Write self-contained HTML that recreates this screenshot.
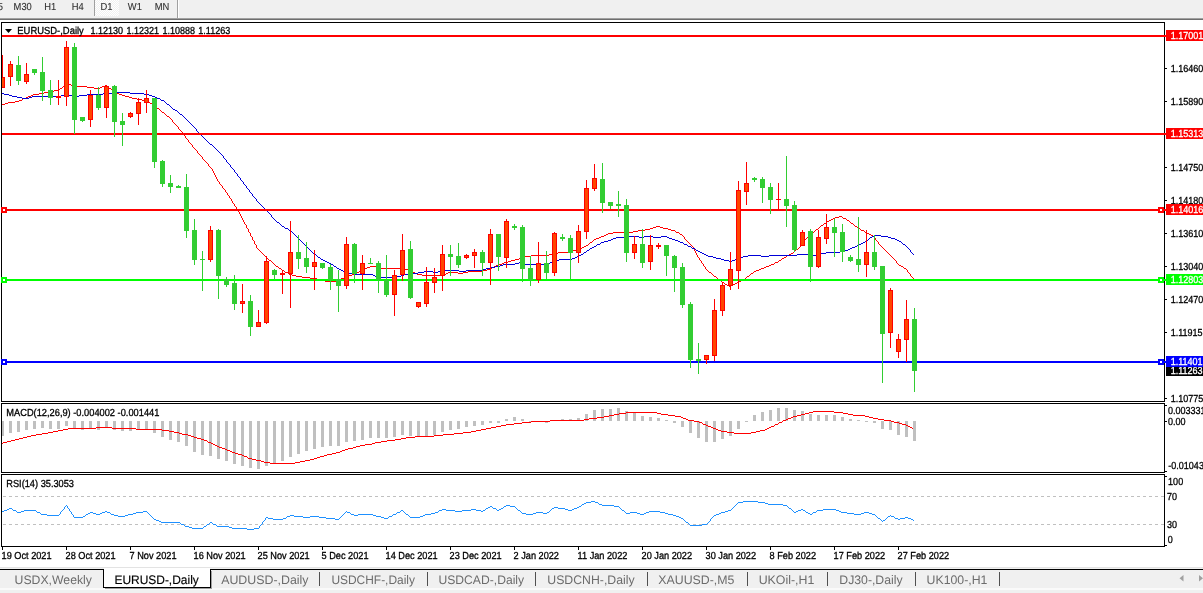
<!DOCTYPE html>
<html lang="en"><head><meta charset="utf-8"><title>EURUSD-,Daily</title>
<style>html,body{margin:0;padding:0;background:#fff;overflow:hidden}svg{display:block}</style></head>
<body>
<svg width="1203" height="593" viewBox="0 0 1203 593" font-family="'Liberation Sans', sans-serif" text-rendering="geometricPrecision">
<rect x="0" y="0" width="1203" height="593" fill="#ffffff"/>
<g id="toolbar" shape-rendering="crispEdges">
<rect x="0" y="0" width="1203" height="18" fill="#f0f0f0"/>
<defs><pattern id="chk" x="0" y="0" width="2" height="2" patternUnits="userSpaceOnUse"><rect width="2" height="2" fill="#f0f0f0"/><rect x="0" y="0" width="1" height="1" fill="#fff"/><rect x="1" y="1" width="1" height="1" fill="#fff"/></pattern></defs>
<rect x="95" y="0" width="24" height="16" fill="url(#chk)"/>
<rect x="0" y="18" width="1203" height="1" fill="#a0a0a0"/>
<rect x="0" y="19" width="1203" height="1" fill="#6e6e6e"/>
<rect x="94" y="0" width="1" height="16" fill="#a0a0a0"/>
<rect x="177" y="0" width="1" height="18" fill="#a0a0a0"/>
<rect x="178" y="0" width="1" height="18" fill="#ffffff"/>
</g>
<g id="tf">
<text transform="translate(-2.2 10) scale(0.92 1)" font-size="10.2" fill="#303030" stroke="#303030" stroke-width="0.1">5</text>
<text transform="translate(13.6 10) scale(0.92 1)" font-size="10.2" fill="#303030" stroke="#303030" stroke-width="0.1">M30</text>
<text transform="translate(44.3 10) scale(0.92 1)" font-size="10.2" fill="#303030" stroke="#303030" stroke-width="0.1">H1</text>
<text transform="translate(71.8 10) scale(0.92 1)" font-size="10.2" fill="#303030" stroke="#303030" stroke-width="0.1">H4</text>
<text transform="translate(100.6 10) scale(0.92 1)" font-size="10.2" fill="#303030" stroke="#303030" stroke-width="0.1">D1</text>
<text transform="translate(127.8 10) scale(0.92 1)" font-size="10.2" fill="#303030" stroke="#303030" stroke-width="0.1">W1</text>
<text transform="translate(154.8 10) scale(0.92 1)" font-size="10.2" fill="#303030" stroke="#303030" stroke-width="0.1">MN</text>
</g>
<defs><clipPath id="cm"><rect x="2" y="23" width="1162" height="378"/></clipPath>
<clipPath id="c2"><rect x="2" y="404" width="1162" height="68"/></clipPath>
<clipPath id="c3"><rect x="2" y="475" width="1162" height="71"/></clipPath></defs>
<g id="main" clip-path="url(#cm)">
<path d="M67 84h4v1h-4zM65 85h2v1h-2zM71 85h3v1h-3zM105 85h2v1h-2zM63 86h2v1h-2zM74 86h13v1h-13zM102 86h3v1h-3zM107 86h1v1h-1zM62 87h1v1h-1zM87 87h7v1h-7zM100 87h2v1h-2zM108 87h1v1h-1zM60 88h2v1h-2zM94 88h6v1h-6zM109 88h2v1h-2zM59 89h1v1h-1zM111 89h1v1h-1zM54 90h5v1h-5zM112 90h1v1h-1zM49 91h5v1h-5zM113 91h2v1h-2zM44 92h5v1h-5zM115 92h2v1h-2zM39 93h5v1h-5zM117 93h2v1h-2zM33 94h6v1h-6zM119 94h3v1h-3zM31 95h2v1h-2zM122 95h3v1h-3zM28 96h3v1h-3zM125 96h4v1h-4zM26 97h2v1h-2zM129 97h3v1h-3zM23 98h3v1h-3zM132 98h5v1h-5zM22 99h1v1h-1zM137 99h5v1h-5zM19 100h3v1h-3zM142 100h4v1h-4zM15 101h4v1h-4zM146 101h2v1h-2zM8 102h7v1h-7zM148 102h2v1h-2zM5 103h3v1h-3zM150 103h2v1h-2zM2 104h3v1h-3zM152 104h1v1h-1zM153 105h1v1h-1zM154 106h2v1h-2zM156 107h1v1h-1zM157 108h2v1h-2zM159 109h1v1h-1zM160 110h1v1h-1zM161 111h1v1h-1zM162 112h2v1h-2zM164 113h1v1h-1zM165 114h1v1h-1zM166 115h1v1h-1zM167 116h2v1h-2zM169 117h1v1h-1zM170 118h1v1h-1zM171 119h1v1h-1zM172 120h1v1h-1zM172 121h1v1h-1zM173 122h1v1h-1zM174 123h1v1h-1zM175 124h1v1h-1zM176 125h1v1h-1zM177 126h1v1h-1zM178 127h1v1h-1zM178 128h1v1h-1zM179 129h1v1h-1zM180 130h1v1h-1zM181 131h1v1h-1zM182 132h1v1h-1zM182 133h1v1h-1zM183 134h1v1h-1zM184 135h1v1h-1zM185 136h1v1h-1zM185 137h1v1h-1zM186 138h1v1h-1zM187 139h1v1h-1zM188 140h1v1h-1zM188 141h1v1h-1zM189 142h1v1h-1zM190 143h1v1h-1zM191 144h1v1h-1zM192 145h1v1h-1zM192 146h1v1h-1zM193 147h1v1h-1zM194 148h1v1h-1zM195 149h1v1h-1zM196 150h1v1h-1zM197 151h1v1h-1zM197 152h1v1h-1zM198 153h1v1h-1zM199 154h1v1h-1zM200 155h1v1h-1zM201 156h1v1h-1zM202 157h1v1h-1zM202 158h1v1h-1zM203 159h1v1h-1zM204 160h1v1h-1zM205 161h1v1h-1zM206 162h1v1h-1zM207 163h1v1h-1zM208 164h1v1h-1zM208 165h1v1h-1zM209 166h1v1h-1zM210 167h1v1h-1zM211 168h1v1h-1zM212 169h1v1h-1zM212 170h1v1h-1zM213 171h1v1h-1zM213 172h1v1h-1zM214 173h1v1h-1zM214 174h1v1h-1zM215 175h1v1h-1zM215 176h1v1h-1zM216 177h1v1h-1zM216 178h1v1h-1zM217 179h1v1h-1zM217 180h1v1h-1zM218 181h1v1h-1zM219 182h1v1h-1zM219 183h1v1h-1zM220 184h1v1h-1zM221 185h1v1h-1zM222 186h1v1h-1zM222 187h1v1h-1zM223 188h1v1h-1zM224 189h1v1h-1zM225 190h1v1h-1zM225 191h1v1h-1zM226 192h1v1h-1zM227 193h1v1h-1zM227 194h1v1h-1zM228 195h1v1h-1zM229 196h1v1h-1zM229 197h1v1h-1zM230 198h1v1h-1zM231 199h1v1h-1zM231 200h1v1h-1zM232 201h1v1h-1zM232 202h1v1h-1zM233 203h1v1h-1zM234 204h1v1h-1zM234 205h1v1h-1zM235 206h1v1h-1zM236 207h1v1h-1zM236 208h1v1h-1zM237 209h1v1h-1zM238 210h1v1h-1zM238 211h1v1h-1zM239 212h1v1h-1zM239 213h1v1h-1zM240 214h1v1h-1zM240 215h1v1h-1zM241 216h1v1h-1zM839 216h3v1h-3zM241 217h1v1h-1zM835 217h4v1h-4zM842 217h1v1h-1zM242 218h1v1h-1zM833 218h2v1h-2zM843 218h3v1h-3zM242 219h1v1h-1zM831 219h2v1h-2zM846 219h1v1h-1zM243 220h1v1h-1zM829 220h2v1h-2zM847 220h2v1h-2zM243 221h1v1h-1zM827 221h2v1h-2zM849 221h1v1h-1zM244 222h1v1h-1zM826 222h1v1h-1zM850 222h1v1h-1zM244 223h1v1h-1zM824 223h2v1h-2zM851 223h2v1h-2zM245 224h1v1h-1zM823 224h1v1h-1zM853 224h1v1h-1zM246 225h1v1h-1zM821 225h2v1h-2zM854 225h1v1h-1zM246 226h1v1h-1zM656 226h4v1h-4zM820 226h1v1h-1zM855 226h2v1h-2zM246 227h1v1h-1zM653 227h3v1h-3zM660 227h3v1h-3zM819 227h1v1h-1zM857 227h1v1h-1zM247 228h1v1h-1zM650 228h3v1h-3zM663 228h5v1h-5zM818 228h1v1h-1zM858 228h2v1h-2zM248 229h1v1h-1zM645 229h5v1h-5zM668 229h3v1h-3zM816 229h2v1h-2zM860 229h1v1h-1zM248 230h1v1h-1zM638 230h7v1h-7zM671 230h4v1h-4zM815 230h1v1h-1zM861 230h3v1h-3zM248 231h1v1h-1zM633 231h5v1h-5zM675 231h1v1h-1zM814 231h1v1h-1zM864 231h1v1h-1zM249 232h1v1h-1zM613 232h20v1h-20zM676 232h3v1h-3zM813 232h1v1h-1zM865 232h2v1h-2zM250 233h1v1h-1zM608 233h5v1h-5zM679 233h1v1h-1zM812 233h1v1h-1zM867 233h2v1h-2zM250 234h1v1h-1zM606 234h2v1h-2zM680 234h2v1h-2zM811 234h1v1h-1zM869 234h2v1h-2zM250 235h1v1h-1zM604 235h2v1h-2zM682 235h1v1h-1zM809 235h2v1h-2zM871 235h2v1h-2zM251 236h1v1h-1zM601 236h3v1h-3zM683 236h1v1h-1zM808 236h1v1h-1zM873 236h1v1h-1zM252 237h1v1h-1zM599 237h2v1h-2zM684 237h1v1h-1zM807 237h1v1h-1zM874 237h1v1h-1zM252 238h1v1h-1zM596 238h3v1h-3zM684 238h1v1h-1zM806 238h1v1h-1zM875 238h1v1h-1zM252 239h1v1h-1zM594 239h2v1h-2zM685 239h1v1h-1zM805 239h1v1h-1zM875 239h1v1h-1zM253 240h1v1h-1zM593 240h1v1h-1zM686 240h1v1h-1zM804 240h1v1h-1zM876 240h1v1h-1zM254 241h1v1h-1zM592 241h1v1h-1zM687 241h1v1h-1zM804 241h1v1h-1zM877 241h1v1h-1zM254 242h1v1h-1zM590 242h2v1h-2zM688 242h1v1h-1zM803 242h1v1h-1zM878 242h1v1h-1zM254 243h1v1h-1zM589 243h1v1h-1zM689 243h1v1h-1zM802 243h1v1h-1zM878 243h1v1h-1zM255 244h1v1h-1zM588 244h1v1h-1zM690 244h1v1h-1zM802 244h1v1h-1zM879 244h1v1h-1zM256 245h1v1h-1zM586 245h2v1h-2zM691 245h1v1h-1zM801 245h1v1h-1zM880 245h1v1h-1zM256 246h1v1h-1zM584 246h2v1h-2zM692 246h1v1h-1zM800 246h1v1h-1zM881 246h1v1h-1zM256 247h1v1h-1zM582 247h2v1h-2zM693 247h1v1h-1zM799 247h1v1h-1zM882 247h1v1h-1zM257 248h1v1h-1zM579 248h3v1h-3zM693 248h1v1h-1zM798 248h1v1h-1zM883 248h1v1h-1zM258 249h1v1h-1zM576 249h3v1h-3zM694 249h1v1h-1zM796 249h2v1h-2zM884 249h1v1h-1zM259 250h1v1h-1zM572 250h4v1h-4zM694 250h1v1h-1zM795 250h1v1h-1zM885 250h1v1h-1zM260 251h1v1h-1zM568 251h4v1h-4zM695 251h1v1h-1zM794 251h1v1h-1zM886 251h1v1h-1zM261 252h1v1h-1zM558 252h10v1h-10zM695 252h1v1h-1zM793 252h1v1h-1zM887 252h1v1h-1zM262 253h1v1h-1zM555 253h3v1h-3zM696 253h1v1h-1zM791 253h2v1h-2zM888 253h1v1h-1zM263 254h1v1h-1zM549 254h6v1h-6zM696 254h1v1h-1zM789 254h2v1h-2zM889 254h1v1h-1zM264 255h1v1h-1zM531 255h18v1h-18zM697 255h1v1h-1zM787 255h2v1h-2zM890 255h1v1h-1zM265 256h1v1h-1zM525 256h6v1h-6zM697 256h1v1h-1zM786 256h1v1h-1zM891 256h1v1h-1zM266 257h1v1h-1zM522 257h3v1h-3zM698 257h1v1h-1zM784 257h2v1h-2zM892 257h1v1h-1zM267 258h1v1h-1zM519 258h3v1h-3zM699 258h1v1h-1zM782 258h2v1h-2zM893 258h1v1h-1zM268 259h1v1h-1zM515 259h4v1h-4zM699 259h1v1h-1zM781 259h1v1h-1zM894 259h1v1h-1zM269 260h2v1h-2zM511 260h4v1h-4zM700 260h1v1h-1zM779 260h2v1h-2zM895 260h1v1h-1zM271 261h1v1h-1zM508 261h3v1h-3zM701 261h1v1h-1zM778 261h1v1h-1zM896 261h1v1h-1zM272 262h1v1h-1zM504 262h4v1h-4zM701 262h1v1h-1zM775 262h3v1h-3zM896 262h1v1h-1zM273 263h1v1h-1zM502 263h2v1h-2zM702 263h1v1h-1zM774 263h1v1h-1zM897 263h1v1h-1zM274 264h1v1h-1zM499 264h3v1h-3zM703 264h1v1h-1zM771 264h3v1h-3zM898 264h1v1h-1zM275 265h1v1h-1zM496 265h3v1h-3zM703 265h1v1h-1zM769 265h2v1h-2zM899 265h2v1h-2zM276 266h2v1h-2zM370 266h8v1h-8zM494 266h2v1h-2zM704 266h1v1h-1zM766 266h3v1h-3zM901 266h2v1h-2zM278 267h1v1h-1zM367 267h3v1h-3zM378 267h3v1h-3zM492 267h2v1h-2zM705 267h1v1h-1zM764 267h2v1h-2zM903 267h1v1h-1zM279 268h2v1h-2zM365 268h2v1h-2zM381 268h23v1h-23zM490 268h2v1h-2zM705 268h1v1h-1zM761 268h3v1h-3zM904 268h2v1h-2zM281 269h1v1h-1zM363 269h2v1h-2zM404 269h4v1h-4zM487 269h3v1h-3zM706 269h1v1h-1zM759 269h2v1h-2zM906 269h1v1h-1zM282 270h2v1h-2zM361 270h2v1h-2zM408 270h2v1h-2zM482 270h5v1h-5zM707 270h1v1h-1zM756 270h3v1h-3zM907 270h1v1h-1zM284 271h1v1h-1zM359 271h2v1h-2zM410 271h2v1h-2zM468 271h14v1h-14zM708 271h1v1h-1zM754 271h2v1h-2zM907 271h1v1h-1zM285 272h3v1h-3zM357 272h2v1h-2zM412 272h3v1h-3zM448 272h10v1h-10zM463 272h5v1h-5zM709 272h2v1h-2zM753 272h1v1h-1zM908 272h1v1h-1zM288 273h1v1h-1zM355 273h2v1h-2zM415 273h2v1h-2zM446 273h2v1h-2zM458 273h5v1h-5zM711 273h1v1h-1zM751 273h2v1h-2zM909 273h1v1h-1zM289 274h3v1h-3zM352 274h3v1h-3zM417 274h5v1h-5zM440 274h6v1h-6zM712 274h1v1h-1zM750 274h1v1h-1zM910 274h1v1h-1zM292 275h4v1h-4zM349 275h3v1h-3zM422 275h18v1h-18zM713 275h1v1h-1zM749 275h1v1h-1zM910 275h1v1h-1zM296 276h6v1h-6zM346 276h3v1h-3zM714 276h2v1h-2zM747 276h2v1h-2zM911 276h1v1h-1zM302 277h8v1h-8zM344 277h2v1h-2zM716 277h1v1h-1zM746 277h1v1h-1zM912 277h1v1h-1zM310 278h7v1h-7zM341 278h3v1h-3zM717 278h1v1h-1zM745 278h1v1h-1zM913 278h1v1h-1zM317 279h4v1h-4zM340 279h1v1h-1zM718 279h1v1h-1zM743 279h2v1h-2zM913 279h1v1h-1zM321 280h4v1h-4zM337 280h3v1h-3zM719 280h2v1h-2zM741 280h2v1h-2zM325 281h12v1h-12zM721 281h1v1h-1zM739 281h2v1h-2zM722 282h2v1h-2zM737 282h2v1h-2zM724 283h1v1h-1zM735 283h2v1h-2zM725 284h2v1h-2zM733 284h2v1h-2zM727 285h2v1h-2zM731 285h2v1h-2zM729 286h2v1h-2z" fill="#ff0000" shape-rendering="crispEdges"/>
<path d="M117 92h13v1h-13zM2 93h2v1h-2zM103 93h14v1h-14zM130 93h14v1h-14zM4 94h5v1h-5zM64 94h5v1h-5zM87 94h16v1h-16zM144 94h5v1h-5zM9 95h3v1h-3zM61 95h3v1h-3zM69 95h3v1h-3zM79 95h8v1h-8zM149 95h3v1h-3zM12 96h5v1h-5zM32 96h29v1h-29zM72 96h7v1h-7zM152 96h3v1h-3zM17 97h5v1h-5zM29 97h3v1h-3zM155 97h2v1h-2zM22 98h7v1h-7zM157 98h3v1h-3zM160 99h1v1h-1zM161 100h3v1h-3zM164 101h1v1h-1zM165 102h1v1h-1zM166 103h1v1h-1zM167 104h2v1h-2zM169 105h1v1h-1zM170 106h1v1h-1zM171 107h1v1h-1zM172 108h1v1h-1zM173 109h2v1h-2zM175 110h2v1h-2zM177 111h1v1h-1zM178 112h1v1h-1zM179 113h1v1h-1zM180 114h2v1h-2zM182 115h1v1h-1zM183 116h1v1h-1zM184 117h1v1h-1zM185 118h1v1h-1zM186 119h1v1h-1zM187 120h1v1h-1zM188 121h1v1h-1zM189 122h1v1h-1zM190 123h1v1h-1zM191 124h1v1h-1zM192 125h1v1h-1zM193 126h1v1h-1zM194 127h1v1h-1zM195 128h1v1h-1zM196 129h1v1h-1zM196 130h1v1h-1zM197 131h1v1h-1zM198 132h1v1h-1zM199 133h1v1h-1zM200 134h1v1h-1zM201 135h1v1h-1zM202 136h1v1h-1zM203 137h1v1h-1zM204 138h1v1h-1zM205 139h1v1h-1zM206 140h1v1h-1zM207 141h1v1h-1zM208 142h1v1h-1zM209 143h1v1h-1zM210 144h2v1h-2zM212 145h1v1h-1zM213 146h1v1h-1zM214 147h1v1h-1zM215 148h1v1h-1zM216 149h1v1h-1zM217 150h1v1h-1zM218 151h1v1h-1zM219 152h1v1h-1zM220 153h1v1h-1zM221 154h1v1h-1zM222 155h1v1h-1zM223 156h1v1h-1zM223 157h1v1h-1zM224 158h1v1h-1zM225 159h1v1h-1zM226 160h1v1h-1zM226 161h1v1h-1zM227 162h1v1h-1zM228 163h1v1h-1zM229 164h1v1h-1zM230 165h1v1h-1zM230 166h1v1h-1zM231 167h1v1h-1zM232 168h1v1h-1zM233 169h1v1h-1zM234 170h1v1h-1zM234 171h1v1h-1zM235 172h1v1h-1zM236 173h1v1h-1zM237 174h1v1h-1zM237 175h1v1h-1zM238 176h1v1h-1zM239 177h1v1h-1zM240 178h1v1h-1zM240 179h1v1h-1zM241 180h1v1h-1zM242 181h1v1h-1zM243 182h1v1h-1zM243 183h1v1h-1zM244 184h1v1h-1zM245 185h1v1h-1zM246 186h1v1h-1zM246 187h1v1h-1zM247 188h1v1h-1zM248 189h1v1h-1zM249 190h1v1h-1zM249 191h1v1h-1zM250 192h1v1h-1zM251 193h1v1h-1zM252 194h1v1h-1zM252 195h1v1h-1zM253 196h1v1h-1zM254 197h1v1h-1zM255 198h1v1h-1zM256 199h1v1h-1zM256 200h1v1h-1zM257 201h1v1h-1zM258 202h1v1h-1zM259 203h1v1h-1zM260 204h1v1h-1zM261 205h1v1h-1zM262 206h1v1h-1zM263 207h1v1h-1zM264 208h1v1h-1zM265 209h1v1h-1zM266 210h1v1h-1zM267 211h1v1h-1zM268 212h1v1h-1zM269 213h1v1h-1zM270 214h1v1h-1zM271 215h1v1h-1zM271 216h1v1h-1zM272 217h1v1h-1zM273 218h1v1h-1zM274 219h1v1h-1zM275 220h1v1h-1zM276 221h1v1h-1zM277 222h2v1h-2zM279 223h1v1h-1zM280 224h1v1h-1zM281 225h1v1h-1zM282 226h2v1h-2zM284 227h1v1h-1zM285 228h3v1h-3zM288 229h1v1h-1zM289 230h2v1h-2zM291 231h1v1h-1zM292 232h1v1h-1zM293 233h1v1h-1zM294 234h1v1h-1zM295 235h1v1h-1zM875 235h6v1h-6zM296 236h1v1h-1zM627 236h12v1h-12zM644 236h9v1h-9zM661 236h6v1h-6zM872 236h3v1h-3zM881 236h7v1h-7zM297 237h1v1h-1zM616 237h11v1h-11zM639 237h5v1h-5zM653 237h8v1h-8zM667 237h2v1h-2zM870 237h2v1h-2zM888 237h3v1h-3zM298 238h1v1h-1zM613 238h3v1h-3zM669 238h3v1h-3zM869 238h1v1h-1zM891 238h4v1h-4zM299 239h1v1h-1zM611 239h2v1h-2zM672 239h3v1h-3zM868 239h1v1h-1zM895 239h2v1h-2zM300 240h1v1h-1zM608 240h3v1h-3zM675 240h3v1h-3zM866 240h2v1h-2zM897 240h2v1h-2zM301 241h1v1h-1zM604 241h4v1h-4zM678 241h2v1h-2zM865 241h1v1h-1zM899 241h2v1h-2zM302 242h1v1h-1zM601 242h3v1h-3zM680 242h3v1h-3zM863 242h2v1h-2zM901 242h1v1h-1zM303 243h1v1h-1zM600 243h1v1h-1zM683 243h1v1h-1zM861 243h2v1h-2zM902 243h1v1h-1zM304 244h1v1h-1zM597 244h3v1h-3zM684 244h3v1h-3zM859 244h2v1h-2zM903 244h2v1h-2zM305 245h1v1h-1zM596 245h1v1h-1zM687 245h1v1h-1zM857 245h2v1h-2zM905 245h1v1h-1zM306 246h1v1h-1zM594 246h2v1h-2zM688 246h3v1h-3zM855 246h2v1h-2zM906 246h1v1h-1zM307 247h1v1h-1zM592 247h2v1h-2zM691 247h1v1h-1zM852 247h3v1h-3zM907 247h1v1h-1zM308 248h1v1h-1zM590 248h2v1h-2zM692 248h3v1h-3zM850 248h2v1h-2zM908 248h1v1h-1zM309 249h1v1h-1zM589 249h1v1h-1zM695 249h1v1h-1zM848 249h2v1h-2zM909 249h1v1h-1zM310 250h1v1h-1zM587 250h2v1h-2zM696 250h2v1h-2zM844 250h4v1h-4zM910 250h1v1h-1zM311 251h1v1h-1zM586 251h1v1h-1zM698 251h2v1h-2zM840 251h4v1h-4zM910 251h1v1h-1zM312 252h1v1h-1zM584 252h2v1h-2zM700 252h2v1h-2zM826 252h14v1h-14zM911 252h1v1h-1zM313 253h1v1h-1zM583 253h1v1h-1zM702 253h2v1h-2zM820 253h6v1h-6zM912 253h1v1h-1zM314 254h2v1h-2zM581 254h2v1h-2zM704 254h2v1h-2zM797 254h13v1h-13zM816 254h4v1h-4zM913 254h1v1h-1zM316 255h1v1h-1zM579 255h2v1h-2zM706 255h2v1h-2zM748 255h13v1h-13zM769 255h28v1h-28zM810 255h6v1h-6zM317 256h1v1h-1zM577 256h2v1h-2zM708 256h5v1h-5zM743 256h5v1h-5zM761 256h8v1h-8zM318 257h2v1h-2zM575 257h2v1h-2zM713 257h3v1h-3zM741 257h2v1h-2zM320 258h1v1h-1zM572 258h3v1h-3zM716 258h5v1h-5zM738 258h3v1h-3zM321 259h2v1h-2zM559 259h13v1h-13zM721 259h3v1h-3zM735 259h3v1h-3zM323 260h2v1h-2zM556 260h3v1h-3zM724 260h5v1h-5zM732 260h3v1h-3zM325 261h2v1h-2zM554 261h2v1h-2zM729 261h3v1h-3zM327 262h2v1h-2zM519 262h3v1h-3zM550 262h4v1h-4zM329 263h2v1h-2zM515 263h4v1h-4zM522 263h3v1h-3zM545 263h5v1h-5zM331 264h2v1h-2zM503 264h12v1h-12zM525 264h20v1h-20zM333 265h1v1h-1zM500 265h3v1h-3zM334 266h2v1h-2zM495 266h5v1h-5zM336 267h1v1h-1zM491 267h4v1h-4zM337 268h2v1h-2zM486 268h5v1h-5zM339 269h2v1h-2zM483 269h3v1h-3zM341 270h2v1h-2zM440 270h19v1h-19zM466 270h17v1h-17zM343 271h2v1h-2zM424 271h9v1h-9zM438 271h2v1h-2zM459 271h7v1h-7zM345 272h3v1h-3zM418 272h6v1h-6zM433 272h5v1h-5zM348 273h6v1h-6zM411 273h7v1h-7zM354 274h19v1h-19zM404 274h7v1h-7zM373 275h2v1h-2zM401 275h3v1h-3zM375 276h5v1h-5zM394 276h7v1h-7zM380 277h14v1h-14z" fill="#0000d8" shape-rendering="crispEdges"/>
<g shape-rendering="crispEdges">
<rect x="2" y="35" width="1162" height="2" fill="#ff0000"/>
<rect x="2" y="133" width="1162" height="2" fill="#ff0000"/>
<rect x="2" y="209" width="1162" height="2" fill="#ff0000"/>
<rect x="2" y="279" width="1162" height="2" fill="#00ff00"/>
<rect x="2" y="361" width="1162" height="2" fill="#0000ff"/>
</g>
<g id="candles" shape-rendering="crispEdges">
<rect x="2" y="55" width="1" height="33" fill="#ff0000"/>
<rect x="0" y="77" width="5" height="11" fill="#ff0000"/>
<rect x="1" y="78" width="3" height="9" fill="#ff4500"/>
<rect x="10" y="61" width="1" height="25" fill="#ff0000"/>
<rect x="8" y="64" width="5" height="13" fill="#ff0000"/>
<rect x="9" y="65" width="3" height="11" fill="#ff4500"/>
<rect x="18" y="56" width="1" height="29" fill="#32cd32"/>
<rect x="16" y="65" width="5" height="16" fill="#32cd32"/>
<rect x="26" y="63" width="1" height="21" fill="#ff0000"/>
<rect x="24" y="74" width="5" height="8" fill="#ff0000"/>
<rect x="25" y="75" width="3" height="6" fill="#ff4500"/>
<rect x="34" y="69" width="1" height="6" fill="#32cd32"/>
<rect x="32" y="69" width="5" height="4" fill="#32cd32"/>
<rect x="42" y="57" width="1" height="44" fill="#32cd32"/>
<rect x="40" y="72" width="5" height="19" fill="#32cd32"/>
<rect x="50" y="80" width="1" height="25" fill="#32cd32"/>
<rect x="48" y="90" width="5" height="8" fill="#32cd32"/>
<rect x="58" y="80" width="1" height="25" fill="#ff0000"/>
<rect x="56" y="96" width="5" height="2" fill="#ff0000"/>
<rect x="66" y="41" width="1" height="65" fill="#ff0000"/>
<rect x="64" y="47" width="5" height="50" fill="#ff0000"/>
<rect x="65" y="48" width="3" height="48" fill="#ff4500"/>
<rect x="74" y="43" width="1" height="91" fill="#32cd32"/>
<rect x="72" y="47" width="5" height="73" fill="#32cd32"/>
<rect x="82" y="117" width="1" height="5" fill="#32cd32"/>
<rect x="80" y="117" width="5" height="4" fill="#32cd32"/>
<rect x="90" y="90" width="1" height="37" fill="#ff0000"/>
<rect x="88" y="95" width="5" height="25" fill="#ff0000"/>
<rect x="89" y="96" width="3" height="23" fill="#ff4500"/>
<rect x="98" y="87" width="1" height="23" fill="#32cd32"/>
<rect x="96" y="95" width="5" height="13" fill="#32cd32"/>
<rect x="106" y="85" width="1" height="33" fill="#ff0000"/>
<rect x="104" y="86" width="5" height="22" fill="#ff0000"/>
<rect x="105" y="87" width="3" height="20" fill="#ff4500"/>
<rect x="114" y="85" width="1" height="52" fill="#32cd32"/>
<rect x="112" y="86" width="5" height="36" fill="#32cd32"/>
<rect x="122" y="113" width="1" height="33" fill="#32cd32"/>
<rect x="120" y="121" width="5" height="4" fill="#32cd32"/>
<rect x="130" y="112" width="1" height="6" fill="#ff0000"/>
<rect x="128" y="113" width="5" height="4" fill="#ff0000"/>
<rect x="129" y="114" width="3" height="2" fill="#ff4500"/>
<rect x="138" y="98" width="1" height="27" fill="#ff0000"/>
<rect x="136" y="102" width="5" height="12" fill="#ff0000"/>
<rect x="137" y="103" width="3" height="10" fill="#ff4500"/>
<rect x="146" y="90" width="1" height="23" fill="#ff0000"/>
<rect x="144" y="98" width="5" height="5" fill="#ff0000"/>
<rect x="145" y="99" width="3" height="3" fill="#ff4500"/>
<rect x="154" y="98" width="1" height="70" fill="#32cd32"/>
<rect x="152" y="98" width="5" height="64" fill="#32cd32"/>
<rect x="162" y="160" width="1" height="27" fill="#32cd32"/>
<rect x="160" y="161" width="5" height="23" fill="#32cd32"/>
<rect x="170" y="175" width="1" height="18" fill="#32cd32"/>
<rect x="168" y="183" width="5" height="4" fill="#32cd32"/>
<rect x="178" y="185" width="1" height="3" fill="#32cd32"/>
<rect x="176" y="186" width="5" height="2" fill="#32cd32"/>
<rect x="186" y="174" width="1" height="64" fill="#32cd32"/>
<rect x="184" y="187" width="5" height="44" fill="#32cd32"/>
<rect x="194" y="219" width="1" height="46" fill="#32cd32"/>
<rect x="192" y="230" width="5" height="30" fill="#32cd32"/>
<rect x="202" y="251" width="1" height="40" fill="#32cd32"/>
<rect x="200" y="259" width="5" height="1" fill="#32cd32"/>
<rect x="210" y="226" width="1" height="36" fill="#ff0000"/>
<rect x="208" y="230" width="5" height="30" fill="#ff0000"/>
<rect x="209" y="231" width="3" height="28" fill="#ff4500"/>
<rect x="218" y="229" width="1" height="70" fill="#32cd32"/>
<rect x="216" y="230" width="5" height="46" fill="#32cd32"/>
<rect x="226" y="277" width="1" height="10" fill="#32cd32"/>
<rect x="224" y="279" width="5" height="6" fill="#32cd32"/>
<rect x="234" y="275" width="1" height="35" fill="#32cd32"/>
<rect x="232" y="283" width="5" height="21" fill="#32cd32"/>
<rect x="242" y="284" width="1" height="29" fill="#ff0000"/>
<rect x="240" y="301" width="5" height="3" fill="#ff0000"/>
<rect x="241" y="302" width="3" height="1" fill="#ff4500"/>
<rect x="250" y="295" width="1" height="41" fill="#32cd32"/>
<rect x="248" y="301" width="5" height="26" fill="#32cd32"/>
<rect x="258" y="310" width="1" height="17" fill="#ff0000"/>
<rect x="256" y="322" width="5" height="5" fill="#ff0000"/>
<rect x="257" y="323" width="3" height="3" fill="#ff4500"/>
<rect x="266" y="256" width="1" height="68" fill="#ff0000"/>
<rect x="264" y="261" width="5" height="62" fill="#ff0000"/>
<rect x="265" y="262" width="3" height="60" fill="#ff4500"/>
<rect x="274" y="269" width="1" height="11" fill="#32cd32"/>
<rect x="272" y="270" width="5" height="5" fill="#32cd32"/>
<rect x="282" y="270" width="1" height="24" fill="#ff0000"/>
<rect x="280" y="273" width="5" height="2" fill="#ff0000"/>
<rect x="290" y="221" width="1" height="87" fill="#ff0000"/>
<rect x="288" y="252" width="5" height="22" fill="#ff0000"/>
<rect x="289" y="253" width="3" height="20" fill="#ff4500"/>
<rect x="298" y="235" width="1" height="34" fill="#32cd32"/>
<rect x="296" y="252" width="5" height="7" fill="#32cd32"/>
<rect x="306" y="242" width="1" height="31" fill="#32cd32"/>
<rect x="304" y="258" width="5" height="9" fill="#32cd32"/>
<rect x="314" y="250" width="1" height="40" fill="#ff0000"/>
<rect x="312" y="262" width="5" height="5" fill="#ff0000"/>
<rect x="313" y="263" width="3" height="3" fill="#ff4500"/>
<rect x="322" y="263" width="1" height="6" fill="#32cd32"/>
<rect x="320" y="263" width="5" height="5" fill="#32cd32"/>
<rect x="330" y="264" width="1" height="26" fill="#32cd32"/>
<rect x="328" y="267" width="5" height="13" fill="#32cd32"/>
<rect x="338" y="270" width="1" height="42" fill="#32cd32"/>
<rect x="336" y="279" width="5" height="7" fill="#32cd32"/>
<rect x="346" y="237" width="1" height="52" fill="#ff0000"/>
<rect x="344" y="244" width="5" height="42" fill="#ff0000"/>
<rect x="345" y="245" width="3" height="40" fill="#ff4500"/>
<rect x="354" y="243" width="1" height="40" fill="#32cd32"/>
<rect x="352" y="244" width="5" height="30" fill="#32cd32"/>
<rect x="362" y="255" width="1" height="35" fill="#ff0000"/>
<rect x="360" y="263" width="5" height="11" fill="#ff0000"/>
<rect x="361" y="264" width="3" height="9" fill="#ff4500"/>
<rect x="370" y="258" width="1" height="6" fill="#32cd32"/>
<rect x="368" y="263" width="5" height="1" fill="#32cd32"/>
<rect x="378" y="261" width="1" height="32" fill="#32cd32"/>
<rect x="376" y="263" width="5" height="17" fill="#32cd32"/>
<rect x="386" y="255" width="1" height="42" fill="#32cd32"/>
<rect x="384" y="280" width="5" height="15" fill="#32cd32"/>
<rect x="394" y="270" width="1" height="46" fill="#ff0000"/>
<rect x="392" y="275" width="5" height="20" fill="#ff0000"/>
<rect x="393" y="276" width="3" height="18" fill="#ff4500"/>
<rect x="402" y="234" width="1" height="47" fill="#ff0000"/>
<rect x="400" y="250" width="5" height="25" fill="#ff0000"/>
<rect x="401" y="251" width="3" height="23" fill="#ff4500"/>
<rect x="410" y="241" width="1" height="58" fill="#32cd32"/>
<rect x="408" y="249" width="5" height="49" fill="#32cd32"/>
<rect x="418" y="302" width="1" height="6" fill="#ff0000"/>
<rect x="416" y="302" width="5" height="5" fill="#ff0000"/>
<rect x="417" y="303" width="3" height="3" fill="#ff4500"/>
<rect x="426" y="267" width="1" height="40" fill="#ff0000"/>
<rect x="424" y="282" width="5" height="22" fill="#ff0000"/>
<rect x="425" y="283" width="3" height="20" fill="#ff4500"/>
<rect x="434" y="268" width="1" height="25" fill="#ff0000"/>
<rect x="432" y="277" width="5" height="6" fill="#ff0000"/>
<rect x="433" y="278" width="3" height="4" fill="#ff4500"/>
<rect x="442" y="245" width="1" height="46" fill="#ff0000"/>
<rect x="440" y="254" width="5" height="22" fill="#ff0000"/>
<rect x="441" y="255" width="3" height="20" fill="#ff4500"/>
<rect x="450" y="245" width="1" height="31" fill="#32cd32"/>
<rect x="448" y="254" width="5" height="3" fill="#32cd32"/>
<rect x="458" y="243" width="1" height="25" fill="#32cd32"/>
<rect x="456" y="256" width="5" height="9" fill="#32cd32"/>
<rect x="466" y="254" width="1" height="5" fill="#ff0000"/>
<rect x="464" y="255" width="5" height="3" fill="#ff0000"/>
<rect x="465" y="256" width="3" height="1" fill="#ff4500"/>
<rect x="474" y="249" width="1" height="19" fill="#ff0000"/>
<rect x="472" y="252" width="5" height="4" fill="#ff0000"/>
<rect x="473" y="253" width="3" height="2" fill="#ff4500"/>
<rect x="482" y="250" width="1" height="26" fill="#32cd32"/>
<rect x="480" y="252" width="5" height="11" fill="#32cd32"/>
<rect x="490" y="229" width="1" height="56" fill="#ff0000"/>
<rect x="488" y="234" width="5" height="29" fill="#ff0000"/>
<rect x="489" y="235" width="3" height="27" fill="#ff4500"/>
<rect x="498" y="234" width="1" height="37" fill="#32cd32"/>
<rect x="496" y="234" width="5" height="23" fill="#32cd32"/>
<rect x="506" y="219" width="1" height="49" fill="#ff0000"/>
<rect x="504" y="221" width="5" height="37" fill="#ff0000"/>
<rect x="505" y="222" width="3" height="35" fill="#ff4500"/>
<rect x="514" y="224" width="1" height="6" fill="#32cd32"/>
<rect x="512" y="226" width="5" height="2" fill="#32cd32"/>
<rect x="522" y="225" width="1" height="57" fill="#32cd32"/>
<rect x="520" y="227" width="5" height="42" fill="#32cd32"/>
<rect x="530" y="256" width="1" height="30" fill="#32cd32"/>
<rect x="528" y="268" width="5" height="12" fill="#32cd32"/>
<rect x="538" y="242" width="1" height="41" fill="#ff0000"/>
<rect x="536" y="263" width="5" height="17" fill="#ff0000"/>
<rect x="537" y="264" width="3" height="15" fill="#ff4500"/>
<rect x="546" y="251" width="1" height="28" fill="#32cd32"/>
<rect x="544" y="263" width="5" height="10" fill="#32cd32"/>
<rect x="554" y="232" width="1" height="44" fill="#ff0000"/>
<rect x="552" y="233" width="5" height="40" fill="#ff0000"/>
<rect x="553" y="234" width="3" height="38" fill="#ff4500"/>
<rect x="562" y="234" width="1" height="7" fill="#32cd32"/>
<rect x="560" y="237" width="5" height="2" fill="#32cd32"/>
<rect x="570" y="235" width="1" height="44" fill="#32cd32"/>
<rect x="568" y="238" width="5" height="15" fill="#32cd32"/>
<rect x="578" y="225" width="1" height="38" fill="#ff0000"/>
<rect x="576" y="231" width="5" height="22" fill="#ff0000"/>
<rect x="577" y="232" width="3" height="20" fill="#ff4500"/>
<rect x="586" y="180" width="1" height="59" fill="#ff0000"/>
<rect x="584" y="188" width="5" height="44" fill="#ff0000"/>
<rect x="585" y="189" width="3" height="42" fill="#ff4500"/>
<rect x="594" y="164" width="1" height="27" fill="#ff0000"/>
<rect x="592" y="178" width="5" height="11" fill="#ff0000"/>
<rect x="593" y="179" width="3" height="9" fill="#ff4500"/>
<rect x="602" y="163" width="1" height="50" fill="#32cd32"/>
<rect x="600" y="179" width="5" height="24" fill="#32cd32"/>
<rect x="610" y="202" width="1" height="7" fill="#32cd32"/>
<rect x="608" y="202" width="5" height="4" fill="#32cd32"/>
<rect x="618" y="191" width="1" height="26" fill="#32cd32"/>
<rect x="616" y="204" width="5" height="2" fill="#32cd32"/>
<rect x="626" y="199" width="1" height="63" fill="#32cd32"/>
<rect x="624" y="205" width="5" height="48" fill="#32cd32"/>
<rect x="634" y="236" width="1" height="23" fill="#ff0000"/>
<rect x="632" y="244" width="5" height="9" fill="#ff0000"/>
<rect x="633" y="245" width="3" height="7" fill="#ff4500"/>
<rect x="642" y="229" width="1" height="39" fill="#32cd32"/>
<rect x="640" y="244" width="5" height="19" fill="#32cd32"/>
<rect x="650" y="235" width="1" height="35" fill="#ff0000"/>
<rect x="648" y="245" width="5" height="17" fill="#ff0000"/>
<rect x="649" y="246" width="3" height="15" fill="#ff4500"/>
<rect x="658" y="243" width="1" height="6" fill="#ff0000"/>
<rect x="656" y="245" width="5" height="2" fill="#ff0000"/>
<rect x="666" y="245" width="1" height="31" fill="#32cd32"/>
<rect x="664" y="245" width="5" height="11" fill="#32cd32"/>
<rect x="674" y="255" width="1" height="37" fill="#32cd32"/>
<rect x="672" y="256" width="5" height="12" fill="#32cd32"/>
<rect x="682" y="263" width="1" height="45" fill="#32cd32"/>
<rect x="680" y="267" width="5" height="38" fill="#32cd32"/>
<rect x="690" y="302" width="1" height="66" fill="#32cd32"/>
<rect x="688" y="304" width="5" height="56" fill="#32cd32"/>
<rect x="698" y="343" width="1" height="31" fill="#32cd32"/>
<rect x="696" y="359" width="5" height="2" fill="#32cd32"/>
<rect x="706" y="355" width="1" height="9" fill="#ff0000"/>
<rect x="704" y="355" width="5" height="5" fill="#ff0000"/>
<rect x="705" y="356" width="3" height="3" fill="#ff4500"/>
<rect x="714" y="299" width="1" height="62" fill="#ff0000"/>
<rect x="712" y="310" width="5" height="46" fill="#ff0000"/>
<rect x="713" y="311" width="3" height="44" fill="#ff4500"/>
<rect x="722" y="282" width="1" height="34" fill="#ff0000"/>
<rect x="720" y="285" width="5" height="26" fill="#ff0000"/>
<rect x="721" y="286" width="3" height="24" fill="#ff4500"/>
<rect x="730" y="252" width="1" height="38" fill="#ff0000"/>
<rect x="728" y="269" width="5" height="17" fill="#ff0000"/>
<rect x="729" y="270" width="3" height="15" fill="#ff4500"/>
<rect x="738" y="181" width="1" height="108" fill="#ff0000"/>
<rect x="736" y="190" width="5" height="81" fill="#ff0000"/>
<rect x="737" y="191" width="3" height="79" fill="#ff4500"/>
<rect x="746" y="162" width="1" height="43" fill="#ff0000"/>
<rect x="744" y="183" width="5" height="9" fill="#ff0000"/>
<rect x="745" y="184" width="3" height="7" fill="#ff4500"/>
<rect x="754" y="177" width="1" height="5" fill="#32cd32"/>
<rect x="752" y="178" width="5" height="2" fill="#32cd32"/>
<rect x="762" y="177" width="1" height="26" fill="#32cd32"/>
<rect x="760" y="179" width="5" height="9" fill="#32cd32"/>
<rect x="770" y="183" width="1" height="31" fill="#32cd32"/>
<rect x="768" y="187" width="5" height="13" fill="#32cd32"/>
<rect x="778" y="183" width="1" height="26" fill="#ff0000"/>
<rect x="776" y="199" width="5" height="1" fill="#ff0000"/>
<rect x="786" y="156" width="1" height="71" fill="#32cd32"/>
<rect x="784" y="199" width="5" height="7" fill="#32cd32"/>
<rect x="794" y="201" width="1" height="51" fill="#32cd32"/>
<rect x="792" y="205" width="5" height="45" fill="#32cd32"/>
<rect x="802" y="230" width="1" height="16" fill="#ff0000"/>
<rect x="800" y="232" width="5" height="14" fill="#ff0000"/>
<rect x="801" y="233" width="3" height="12" fill="#ff4500"/>
<rect x="810" y="229" width="1" height="53" fill="#32cd32"/>
<rect x="808" y="231" width="5" height="36" fill="#32cd32"/>
<rect x="818" y="230" width="1" height="38" fill="#ff0000"/>
<rect x="816" y="237" width="5" height="30" fill="#ff0000"/>
<rect x="817" y="238" width="3" height="28" fill="#ff4500"/>
<rect x="826" y="214" width="1" height="30" fill="#ff0000"/>
<rect x="824" y="227" width="5" height="12" fill="#ff0000"/>
<rect x="825" y="228" width="3" height="10" fill="#ff4500"/>
<rect x="834" y="219" width="1" height="38" fill="#32cd32"/>
<rect x="832" y="227" width="5" height="6" fill="#32cd32"/>
<rect x="842" y="224" width="1" height="38" fill="#32cd32"/>
<rect x="840" y="232" width="5" height="20" fill="#32cd32"/>
<rect x="850" y="255" width="1" height="7" fill="#32cd32"/>
<rect x="848" y="257" width="5" height="4" fill="#32cd32"/>
<rect x="858" y="217" width="1" height="55" fill="#32cd32"/>
<rect x="856" y="259" width="5" height="6" fill="#32cd32"/>
<rect x="866" y="230" width="1" height="47" fill="#ff0000"/>
<rect x="864" y="252" width="5" height="13" fill="#ff0000"/>
<rect x="865" y="253" width="3" height="11" fill="#ff4500"/>
<rect x="874" y="235" width="1" height="35" fill="#32cd32"/>
<rect x="872" y="252" width="5" height="15" fill="#32cd32"/>
<rect x="882" y="266" width="1" height="117" fill="#32cd32"/>
<rect x="880" y="266" width="5" height="68" fill="#32cd32"/>
<rect x="890" y="288" width="1" height="60" fill="#ff0000"/>
<rect x="888" y="290" width="5" height="43" fill="#ff0000"/>
<rect x="889" y="291" width="3" height="41" fill="#ff4500"/>
<rect x="898" y="334" width="1" height="24" fill="#ff0000"/>
<rect x="896" y="339" width="5" height="13" fill="#ff0000"/>
<rect x="897" y="340" width="3" height="11" fill="#ff4500"/>
<rect x="906" y="300" width="1" height="62" fill="#ff0000"/>
<rect x="904" y="319" width="5" height="21" fill="#ff0000"/>
<rect x="905" y="320" width="3" height="19" fill="#ff4500"/>
<rect x="914" y="308" width="1" height="84" fill="#32cd32"/>
<rect x="912" y="319" width="5" height="52" fill="#32cd32"/>
</g>
</g>
<g id="macd" clip-path="url(#c2)">
<g shape-rendering="crispEdges">
<rect x="1" y="421" width="3" height="15" fill="#c0c0c0"/>
<rect x="9" y="421" width="3" height="12" fill="#c0c0c0"/>
<rect x="17" y="421" width="3" height="11" fill="#c0c0c0"/>
<rect x="25" y="421" width="3" height="9" fill="#c0c0c0"/>
<rect x="33" y="421" width="3" height="8" fill="#c0c0c0"/>
<rect x="41" y="421" width="3" height="7" fill="#c0c0c0"/>
<rect x="49" y="421" width="3" height="8" fill="#c0c0c0"/>
<rect x="57" y="421" width="3" height="8" fill="#c0c0c0"/>
<rect x="65" y="421" width="3" height="5" fill="#c0c0c0"/>
<rect x="73" y="421" width="3" height="7" fill="#c0c0c0"/>
<rect x="81" y="421" width="3" height="9" fill="#c0c0c0"/>
<rect x="89" y="421" width="3" height="8" fill="#c0c0c0"/>
<rect x="97" y="421" width="3" height="9" fill="#c0c0c0"/>
<rect x="105" y="421" width="3" height="7" fill="#c0c0c0"/>
<rect x="113" y="421" width="3" height="9" fill="#c0c0c0"/>
<rect x="121" y="421" width="3" height="10" fill="#c0c0c0"/>
<rect x="129" y="421" width="3" height="10" fill="#c0c0c0"/>
<rect x="137" y="421" width="3" height="9" fill="#c0c0c0"/>
<rect x="145" y="421" width="3" height="9" fill="#c0c0c0"/>
<rect x="153" y="421" width="3" height="12" fill="#c0c0c0"/>
<rect x="161" y="421" width="3" height="16" fill="#c0c0c0"/>
<rect x="169" y="421" width="3" height="19" fill="#c0c0c0"/>
<rect x="177" y="421" width="3" height="21" fill="#c0c0c0"/>
<rect x="185" y="421" width="3" height="25" fill="#c0c0c0"/>
<rect x="193" y="421" width="3" height="31" fill="#c0c0c0"/>
<rect x="201" y="421" width="3" height="34" fill="#c0c0c0"/>
<rect x="209" y="421" width="3" height="35" fill="#c0c0c0"/>
<rect x="217" y="421" width="3" height="38" fill="#c0c0c0"/>
<rect x="225" y="421" width="3" height="40" fill="#c0c0c0"/>
<rect x="233" y="421" width="3" height="43" fill="#c0c0c0"/>
<rect x="241" y="421" width="3" height="45" fill="#c0c0c0"/>
<rect x="249" y="421" width="3" height="47" fill="#c0c0c0"/>
<rect x="257" y="421" width="3" height="48" fill="#c0c0c0"/>
<rect x="265" y="421" width="3" height="45" fill="#c0c0c0"/>
<rect x="273" y="421" width="3" height="43" fill="#c0c0c0"/>
<rect x="281" y="421" width="3" height="40" fill="#c0c0c0"/>
<rect x="289" y="421" width="3" height="36" fill="#c0c0c0"/>
<rect x="297" y="421" width="3" height="33" fill="#c0c0c0"/>
<rect x="305" y="421" width="3" height="30" fill="#c0c0c0"/>
<rect x="313" y="421" width="3" height="28" fill="#c0c0c0"/>
<rect x="321" y="421" width="3" height="26" fill="#c0c0c0"/>
<rect x="329" y="421" width="3" height="25" fill="#c0c0c0"/>
<rect x="337" y="421" width="3" height="25" fill="#c0c0c0"/>
<rect x="345" y="421" width="3" height="21" fill="#c0c0c0"/>
<rect x="353" y="421" width="3" height="20" fill="#c0c0c0"/>
<rect x="361" y="421" width="3" height="19" fill="#c0c0c0"/>
<rect x="369" y="421" width="3" height="17" fill="#c0c0c0"/>
<rect x="377" y="421" width="3" height="17" fill="#c0c0c0"/>
<rect x="385" y="421" width="3" height="17" fill="#c0c0c0"/>
<rect x="393" y="421" width="3" height="16" fill="#c0c0c0"/>
<rect x="401" y="421" width="3" height="14" fill="#c0c0c0"/>
<rect x="409" y="421" width="3" height="15" fill="#c0c0c0"/>
<rect x="417" y="421" width="3" height="16" fill="#c0c0c0"/>
<rect x="425" y="421" width="3" height="15" fill="#c0c0c0"/>
<rect x="433" y="421" width="3" height="14" fill="#c0c0c0"/>
<rect x="441" y="421" width="3" height="11" fill="#c0c0c0"/>
<rect x="449" y="421" width="3" height="9" fill="#c0c0c0"/>
<rect x="457" y="421" width="3" height="8" fill="#c0c0c0"/>
<rect x="465" y="421" width="3" height="6" fill="#c0c0c0"/>
<rect x="473" y="421" width="3" height="5" fill="#c0c0c0"/>
<rect x="481" y="421" width="3" height="4" fill="#c0c0c0"/>
<rect x="489" y="421" width="3" height="2" fill="#c0c0c0"/>
<rect x="497" y="421" width="3" height="2" fill="#c0c0c0"/>
<rect x="505" y="419" width="3" height="2" fill="#c0c0c0"/>
<rect x="513" y="417" width="3" height="4" fill="#c0c0c0"/>
<rect x="521" y="419" width="3" height="2" fill="#c0c0c0"/>
<rect x="529" y="421" width="3" height="1" fill="#c0c0c0"/>
<rect x="537" y="421" width="3" height="1" fill="#c0c0c0"/>
<rect x="545" y="421" width="3" height="2" fill="#c0c0c0"/>
<rect x="553" y="420" width="3" height="1" fill="#c0c0c0"/>
<rect x="561" y="419" width="3" height="2" fill="#c0c0c0"/>
<rect x="569" y="419" width="3" height="2" fill="#c0c0c0"/>
<rect x="577" y="418" width="3" height="3" fill="#c0c0c0"/>
<rect x="585" y="414" width="3" height="7" fill="#c0c0c0"/>
<rect x="593" y="410" width="3" height="11" fill="#c0c0c0"/>
<rect x="601" y="409" width="3" height="12" fill="#c0c0c0"/>
<rect x="609" y="409" width="3" height="12" fill="#c0c0c0"/>
<rect x="617" y="408" width="3" height="13" fill="#c0c0c0"/>
<rect x="625" y="411" width="3" height="10" fill="#c0c0c0"/>
<rect x="633" y="413" width="3" height="8" fill="#c0c0c0"/>
<rect x="641" y="416" width="3" height="5" fill="#c0c0c0"/>
<rect x="649" y="417" width="3" height="4" fill="#c0c0c0"/>
<rect x="657" y="418" width="3" height="3" fill="#c0c0c0"/>
<rect x="665" y="420" width="3" height="1" fill="#c0c0c0"/>
<rect x="673" y="421" width="3" height="2" fill="#c0c0c0"/>
<rect x="681" y="421" width="3" height="6" fill="#c0c0c0"/>
<rect x="689" y="421" width="3" height="12" fill="#c0c0c0"/>
<rect x="697" y="421" width="3" height="17" fill="#c0c0c0"/>
<rect x="705" y="421" width="3" height="21" fill="#c0c0c0"/>
<rect x="713" y="421" width="3" height="21" fill="#c0c0c0"/>
<rect x="721" y="421" width="3" height="18" fill="#c0c0c0"/>
<rect x="729" y="421" width="3" height="15" fill="#c0c0c0"/>
<rect x="737" y="421" width="3" height="8" fill="#c0c0c0"/>
<rect x="745" y="421" width="3" height="1" fill="#c0c0c0"/>
<rect x="753" y="415" width="3" height="6" fill="#c0c0c0"/>
<rect x="761" y="412" width="3" height="9" fill="#c0c0c0"/>
<rect x="769" y="410" width="3" height="11" fill="#c0c0c0"/>
<rect x="777" y="408" width="3" height="13" fill="#c0c0c0"/>
<rect x="785" y="408" width="3" height="13" fill="#c0c0c0"/>
<rect x="793" y="410" width="3" height="11" fill="#c0c0c0"/>
<rect x="801" y="411" width="3" height="10" fill="#c0c0c0"/>
<rect x="809" y="414" width="3" height="7" fill="#c0c0c0"/>
<rect x="817" y="415" width="3" height="6" fill="#c0c0c0"/>
<rect x="825" y="415" width="3" height="6" fill="#c0c0c0"/>
<rect x="833" y="415" width="3" height="6" fill="#c0c0c0"/>
<rect x="841" y="417" width="3" height="4" fill="#c0c0c0"/>
<rect x="849" y="419" width="3" height="2" fill="#c0c0c0"/>
<rect x="857" y="420" width="3" height="1" fill="#c0c0c0"/>
<rect x="865" y="421" width="3" height="1" fill="#c0c0c0"/>
<rect x="873" y="421" width="3" height="2" fill="#c0c0c0"/>
<rect x="881" y="421" width="3" height="8" fill="#c0c0c0"/>
<rect x="889" y="421" width="3" height="9" fill="#c0c0c0"/>
<rect x="897" y="421" width="3" height="14" fill="#c0c0c0"/>
<rect x="905" y="421" width="3" height="16" fill="#c0c0c0"/>
<rect x="913" y="421" width="3" height="20" fill="#c0c0c0"/>
</g>
<path d="M813 411h21v1h-21zM626 412h31v1h-31zM809 412h4v1h-4zM834 412h9v1h-9zM619 413h7v1h-7zM657 413h4v1h-4zM805 413h4v1h-4zM843 413h5v1h-5zM614 414h5v1h-5zM661 414h7v1h-7zM801 414h4v1h-4zM848 414h5v1h-5zM609 415h5v1h-5zM668 415h7v1h-7zM797 415h4v1h-4zM853 415h12v1h-12zM604 416h5v1h-5zM675 416h6v1h-6zM793 416h4v1h-4zM865 416h4v1h-4zM597 417h7v1h-7zM681 417h2v1h-2zM791 417h2v1h-2zM869 417h4v1h-4zM589 418h8v1h-8zM683 418h3v1h-3zM788 418h3v1h-3zM873 418h5v1h-5zM584 419h5v1h-5zM686 419h2v1h-2zM786 419h2v1h-2zM878 419h6v1h-6zM550 420h34v1h-34zM688 420h6v1h-6zM783 420h3v1h-3zM884 420h7v1h-7zM531 421h19v1h-19zM694 421h5v1h-5zM782 421h1v1h-1zM891 421h3v1h-3zM522 422h9v1h-9zM699 422h3v1h-3zM779 422h3v1h-3zM894 422h5v1h-5zM514 423h8v1h-8zM702 423h1v1h-1zM778 423h1v1h-1zM899 423h3v1h-3zM506 424h8v1h-8zM703 424h3v1h-3zM775 424h3v1h-3zM902 424h4v1h-4zM501 425h5v1h-5zM706 425h2v1h-2zM774 425h1v1h-1zM906 425h2v1h-2zM496 426h5v1h-5zM708 426h3v1h-3zM771 426h3v1h-3zM908 426h2v1h-2zM96 427h16v1h-16zM491 427h5v1h-5zM711 427h2v1h-2zM769 427h2v1h-2zM910 427h2v1h-2zM68 428h28v1h-28zM112 428h24v1h-24zM486 428h5v1h-5zM713 428h3v1h-3zM767 428h2v1h-2zM912 428h1v1h-1zM63 429h5v1h-5zM136 429h26v1h-26zM481 429h5v1h-5zM716 429h2v1h-2zM765 429h2v1h-2zM58 430h5v1h-5zM162 430h7v1h-7zM476 430h5v1h-5zM718 430h3v1h-3zM760 430h5v1h-5zM53 431h5v1h-5zM169 431h5v1h-5zM471 431h5v1h-5zM721 431h6v1h-6zM756 431h4v1h-4zM48 432h5v1h-5zM174 432h5v1h-5zM463 432h8v1h-8zM727 432h7v1h-7zM751 432h5v1h-5zM42 433h6v1h-6zM179 433h3v1h-3zM454 433h9v1h-9zM734 433h17v1h-17zM36 434h6v1h-6zM182 434h6v1h-6zM443 434h11v1h-11zM31 435h5v1h-5zM188 435h3v1h-3zM434 435h9v1h-9zM27 436h4v1h-4zM191 436h3v1h-3zM415 436h19v1h-19zM23 437h4v1h-4zM194 437h3v1h-3zM406 437h9v1h-9zM19 438h4v1h-4zM197 438h4v1h-4zM401 438h5v1h-5zM15 439h4v1h-4zM201 439h3v1h-3zM395 439h6v1h-6zM11 440h4v1h-4zM204 440h3v1h-3zM387 440h8v1h-8zM7 441h4v1h-4zM207 441h1v1h-1zM381 441h6v1h-6zM3 442h4v1h-4zM208 442h3v1h-3zM375 442h6v1h-6zM1 443h2v1h-2zM211 443h2v1h-2zM372 443h3v1h-3zM213 444h2v1h-2zM365 444h7v1h-7zM215 445h2v1h-2zM360 445h5v1h-5zM217 446h2v1h-2zM356 446h4v1h-4zM219 447h3v1h-3zM353 447h3v1h-3zM222 448h3v1h-3zM348 448h5v1h-5zM225 449h2v1h-2zM345 449h3v1h-3zM227 450h3v1h-3zM342 450h3v1h-3zM230 451h2v1h-2zM340 451h2v1h-2zM232 452h3v1h-3zM336 452h4v1h-4zM235 453h3v1h-3zM332 453h4v1h-4zM238 454h4v1h-4zM327 454h5v1h-5zM242 455h2v1h-2zM324 455h3v1h-3zM244 456h3v1h-3zM320 456h4v1h-4zM247 457h1v1h-1zM317 457h3v1h-3zM248 458h4v1h-4zM314 458h3v1h-3zM252 459h4v1h-4zM310 459h4v1h-4zM256 460h5v1h-5zM305 460h5v1h-5zM261 461h3v1h-3zM300 461h5v1h-5zM264 462h6v1h-6zM295 462h5v1h-5zM270 463h25v1h-25z" fill="#ff0000" shape-rendering="crispEdges"/>
</g>
<g id="rsi" clip-path="url(#c3)">
<g shape-rendering="crispEdges">
<line x1="2" y1="496.5" x2="1164" y2="496.5" stroke="#c0c0c0" stroke-width="1" stroke-dasharray="3 3" stroke-dashoffset="-1"/>
<line x1="2" y1="524.5" x2="1164" y2="524.5" stroke="#c0c0c0" stroke-width="1" stroke-dasharray="3 3" stroke-dashoffset="-1"/>
</g>
<path d="M591 501h4v1h-4zM743 501h15v1h-15zM586 502h5v1h-5zM595 502h3v1h-3zM738 502h5v1h-5zM758 502h7v1h-7zM584 503h2v1h-2zM598 503h1v1h-1zM737 503h1v1h-1zM765 503h3v1h-3zM582 504h2v1h-2zM599 504h3v1h-3zM736 504h1v1h-1zM768 504h15v1h-15zM66 505h1v1h-1zM506 505h4v1h-4zM581 505h1v1h-1zM602 505h12v1h-12zM735 505h1v1h-1zM783 505h4v1h-4zM65 506h1v1h-1zM67 506h1v1h-1zM490 506h2v1h-2zM504 506h2v1h-2zM510 506h5v1h-5zM579 506h2v1h-2zM614 506h5v1h-5zM734 506h1v1h-1zM787 506h1v1h-1zM64 507h1v1h-1zM67 507h1v1h-1zM488 507h2v1h-2zM492 507h1v1h-1zM503 507h1v1h-1zM515 507h1v1h-1zM554 507h4v1h-4zM577 507h2v1h-2zM619 507h1v1h-1zM733 507h1v1h-1zM788 507h1v1h-1zM9 508h3v1h-3zM64 508h1v1h-1zM68 508h1v1h-1zM486 508h2v1h-2zM493 508h3v1h-3zM501 508h2v1h-2zM516 508h1v1h-1zM552 508h2v1h-2zM558 508h7v1h-7zM574 508h3v1h-3zM620 508h1v1h-1zM732 508h1v1h-1zM789 508h2v1h-2zM7 509h2v1h-2zM12 509h1v1h-1zM63 509h1v1h-1zM69 509h1v1h-1zM442 509h4v1h-4zM471 509h5v1h-5zM485 509h1v1h-1zM496 509h1v1h-1zM499 509h2v1h-2zM517 509h1v1h-1zM551 509h1v1h-1zM565 509h3v1h-3zM572 509h2v1h-2zM621 509h1v1h-1zM731 509h1v1h-1zM791 509h1v1h-1zM801 509h2v1h-2zM823 509h13v1h-13zM4 510h3v1h-3zM13 510h3v1h-3zM24 510h12v1h-12zM62 510h1v1h-1zM69 510h1v1h-1zM401 510h2v1h-2zM439 510h3v1h-3zM446 510h9v1h-9zM462 510h9v1h-9zM476 510h5v1h-5zM483 510h2v1h-2zM497 510h2v1h-2zM518 510h2v1h-2zM550 510h1v1h-1zM568 510h4v1h-4zM622 510h2v1h-2zM728 510h3v1h-3zM792 510h1v1h-1zM798 510h3v1h-3zM803 510h2v1h-2zM817 510h6v1h-6zM836 510h3v1h-3zM2 511h2v1h-2zM16 511h1v1h-1zM21 511h3v1h-3zM36 511h1v1h-1zM61 511h1v1h-1zM70 511h1v1h-1zM105 511h2v1h-2zM143 511h4v1h-4zM346 511h1v1h-1zM400 511h1v1h-1zM403 511h1v1h-1zM438 511h1v1h-1zM455 511h7v1h-7zM481 511h2v1h-2zM520 511h1v1h-1zM549 511h1v1h-1zM624 511h1v1h-1zM649 511h11v1h-11zM725 511h3v1h-3zM793 511h1v1h-1zM796 511h2v1h-2zM805 511h1v1h-1zM816 511h1v1h-1zM839 511h2v1h-2zM17 512h4v1h-4zM37 512h3v1h-3zM60 512h1v1h-1zM71 512h1v1h-1zM90 512h3v1h-3zM102 512h3v1h-3zM107 512h3v1h-3zM136 512h7v1h-7zM147 512h1v1h-1zM345 512h1v1h-1zM347 512h3v1h-3zM397 512h3v1h-3zM404 512h1v1h-1zM435 512h3v1h-3zM521 512h1v1h-1zM536 512h7v1h-7zM547 512h2v1h-2zM625 512h1v1h-1zM630 512h7v1h-7zM646 512h3v1h-3zM660 512h5v1h-5zM721 512h4v1h-4zM794 512h2v1h-2zM806 512h2v1h-2zM813 512h3v1h-3zM841 512h6v1h-6zM864 512h5v1h-5zM40 513h1v1h-1zM60 513h1v1h-1zM71 513h1v1h-1zM88 513h2v1h-2zM93 513h3v1h-3zM100 513h2v1h-2zM110 513h1v1h-1zM133 513h3v1h-3zM148 513h1v1h-1zM344 513h1v1h-1zM350 513h1v1h-1zM396 513h1v1h-1zM405 513h1v1h-1zM431 513h4v1h-4zM522 513h4v1h-4zM533 513h3v1h-3zM543 513h4v1h-4zM626 513h4v1h-4zM637 513h3v1h-3zM644 513h2v1h-2zM665 513h3v1h-3zM719 513h2v1h-2zM808 513h2v1h-2zM812 513h1v1h-1zM847 513h7v1h-7zM861 513h3v1h-3zM869 513h3v1h-3zM41 514h6v1h-6zM59 514h1v1h-1zM72 514h1v1h-1zM86 514h2v1h-2zM96 514h4v1h-4zM111 514h3v1h-3zM128 514h5v1h-5zM149 514h1v1h-1zM343 514h1v1h-1zM351 514h3v1h-3zM358 514h15v1h-15zM393 514h3v1h-3zM406 514h2v1h-2zM425 514h6v1h-6zM526 514h7v1h-7zM640 514h4v1h-4zM668 514h5v1h-5zM716 514h3v1h-3zM810 514h2v1h-2zM854 514h7v1h-7zM872 514h3v1h-3zM47 515h12v1h-12zM73 515h1v1h-1zM85 515h1v1h-1zM114 515h4v1h-4zM125 515h3v1h-3zM150 515h1v1h-1zM290 515h4v1h-4zM342 515h1v1h-1zM354 515h4v1h-4zM373 515h3v1h-3zM392 515h1v1h-1zM408 515h1v1h-1zM423 515h2v1h-2zM673 515h3v1h-3zM714 515h2v1h-2zM875 515h1v1h-1zM890 515h1v1h-1zM73 516h1v1h-1zM83 516h2v1h-2zM118 516h7v1h-7zM151 516h1v1h-1zM287 516h3v1h-3zM294 516h9v1h-9zM310 516h9v1h-9zM341 516h1v1h-1zM376 516h5v1h-5zM389 516h3v1h-3zM409 516h1v1h-1zM420 516h3v1h-3zM676 516h3v1h-3zM713 516h1v1h-1zM876 516h1v1h-1zM888 516h2v1h-2zM891 516h3v1h-3zM74 517h9v1h-9zM152 517h1v1h-1zM266 517h2v1h-2zM286 517h1v1h-1zM303 517h7v1h-7zM319 517h7v1h-7zM340 517h1v1h-1zM381 517h3v1h-3zM388 517h1v1h-1zM410 517h10v1h-10zM679 517h2v1h-2zM712 517h1v1h-1zM877 517h1v1h-1zM887 517h1v1h-1zM894 517h1v1h-1zM905 517h3v1h-3zM153 518h1v1h-1zM265 518h1v1h-1zM268 518h5v1h-5zM283 518h3v1h-3zM326 518h9v1h-9zM339 518h1v1h-1zM384 518h4v1h-4zM681 518h2v1h-2zM711 518h1v1h-1zM878 518h2v1h-2zM886 518h1v1h-1zM895 518h3v1h-3zM900 518h5v1h-5zM908 518h3v1h-3zM154 519h2v1h-2zM265 519h1v1h-1zM273 519h10v1h-10zM335 519h4v1h-4zM683 519h1v1h-1zM710 519h1v1h-1zM880 519h1v1h-1zM885 519h1v1h-1zM898 519h2v1h-2zM911 519h2v1h-2zM156 520h3v1h-3zM264 520h1v1h-1zM684 520h1v1h-1zM710 520h1v1h-1zM881 520h1v1h-1zM883 520h2v1h-2zM913 520h1v1h-1zM159 521h2v1h-2zM263 521h1v1h-1zM685 521h1v1h-1zM709 521h1v1h-1zM882 521h1v1h-1zM161 522h19v1h-19zM210 522h2v1h-2zM262 522h1v1h-1zM686 522h2v1h-2zM708 522h1v1h-1zM180 523h1v1h-1zM209 523h1v1h-1zM212 523h1v1h-1zM262 523h1v1h-1zM688 523h1v1h-1zM707 523h1v1h-1zM181 524h3v1h-3zM207 524h2v1h-2zM213 524h3v1h-3zM261 524h1v1h-1zM689 524h1v1h-1zM702 524h5v1h-5zM184 525h1v1h-1zM206 525h1v1h-1zM216 525h1v1h-1zM260 525h1v1h-1zM690 525h12v1h-12zM185 526h4v1h-4zM204 526h2v1h-2zM217 526h12v1h-12zM259 526h1v1h-1zM189 527h3v1h-3zM203 527h1v1h-1zM229 527h3v1h-3zM259 527h1v1h-1zM192 528h11v1h-11zM232 528h15v1h-15zM254 528h5v1h-5zM247 529h7v1h-7z" fill="#1e90ff" shape-rendering="crispEdges"/>
</g>
<g id="frames" shape-rendering="crispEdges" fill="#000">
<rect x="1" y="22" width="1164" height="1"/>
<rect x="1" y="401" width="1164" height="1"/>
<rect x="1" y="22" width="1" height="380"/>
<rect x="1164" y="22" width="1" height="380"/>
<rect x="1" y="403" width="1164" height="1"/>
<rect x="1" y="472" width="1164" height="1"/>
<rect x="1" y="403" width="1" height="70"/>
<rect x="1164" y="403" width="1" height="70"/>
<rect x="1" y="474" width="1164" height="1"/>
<rect x="1" y="546" width="1164" height="1"/>
<rect x="1" y="474" width="1" height="73"/>
<rect x="1164" y="474" width="1" height="73"/>
<rect x="1165" y="68" width="2" height="1"/>
<rect x="1165" y="101" width="2" height="1"/>
<rect x="1165" y="167" width="2" height="1"/>
<rect x="1165" y="200" width="2" height="1"/>
<rect x="1165" y="233" width="2" height="1"/>
<rect x="1165" y="266" width="2" height="1"/>
<rect x="1165" y="299" width="2" height="1"/>
<rect x="1165" y="332" width="2" height="1"/>
<rect x="1165" y="398" width="2" height="1"/>
<rect x="1165" y="405" width="2" height="1"/>
<rect x="1165" y="421" width="2" height="1"/>
<rect x="1165" y="471" width="2" height="1"/>
<rect x="1165" y="476" width="2" height="1"/>
<rect x="1165" y="545" width="2" height="1"/>
<rect x="2" y="547" width="1" height="3"/>
<rect x="66" y="547" width="1" height="3"/>
<rect x="130" y="547" width="1" height="3"/>
<rect x="194" y="547" width="1" height="3"/>
<rect x="258" y="547" width="1" height="3"/>
<rect x="322" y="547" width="1" height="3"/>
<rect x="386" y="547" width="1" height="3"/>
<rect x="450" y="547" width="1" height="3"/>
<rect x="514" y="547" width="1" height="3"/>
<rect x="578" y="547" width="1" height="3"/>
<rect x="642" y="547" width="1" height="3"/>
<rect x="706" y="547" width="1" height="3"/>
<rect x="770" y="547" width="1" height="3"/>
<rect x="834" y="547" width="1" height="3"/>
<rect x="898" y="547" width="1" height="3"/>
</g>
<g shape-rendering="crispEdges">
<rect x="1164" y="35" width="2" height="2" fill="#ff0000"/>
<rect x="1164" y="133" width="2" height="2" fill="#ff0000"/>
<rect x="1164" y="209" width="2" height="2" fill="#ff0000"/>
<rect x="1164" y="279" width="2" height="2" fill="#00ff00"/>
<rect x="1164" y="361" width="2" height="2" fill="#0000ff"/>
<rect x="1" y="207" width="6" height="6" fill="#ff0000"/>
<rect x="3" y="209" width="2" height="2" fill="#fff"/>
<rect x="1158" y="207" width="6" height="6" fill="#ff0000"/>
<rect x="1160" y="209" width="2" height="2" fill="#fff"/>
<rect x="1" y="277" width="6" height="6" fill="#00ff00"/>
<rect x="3" y="279" width="2" height="2" fill="#fff"/>
<rect x="1158" y="277" width="6" height="6" fill="#00ff00"/>
<rect x="1160" y="279" width="2" height="2" fill="#fff"/>
<rect x="1" y="359" width="6" height="6" fill="#0000ff"/>
<rect x="3" y="361" width="2" height="2" fill="#fff"/>
<rect x="1158" y="359" width="6" height="6" fill="#0000ff"/>
<rect x="1160" y="361" width="2" height="2" fill="#fff"/>
</g>
<g id="titles">
<path d="M5 29 L12 29 L8.5 33 Z" fill="#000"/>
<text transform="translate(17.3 34) scale(0.925 1)" font-size="10.2" fill="#000" stroke="#000" stroke-width="0.3">EURUSD-,Daily</text>
<text transform="translate(90.5 34) scale(0.885 1)" font-size="10.2" fill="#000" stroke="#000" stroke-width="0.3">1.12130</text>
<text transform="translate(126.4 34) scale(0.885 1)" font-size="10.2" fill="#000" stroke="#000" stroke-width="0.3">1.12321</text>
<text transform="translate(162.4 34) scale(0.885 1)" font-size="10.2" fill="#000" stroke="#000" stroke-width="0.3">1.10888</text>
<text transform="translate(198.3 34) scale(0.885 1)" font-size="10.2" fill="#000" stroke="#000" stroke-width="0.3">1.11263</text>
<text transform="translate(6.3 416) scale(0.91 1)" font-size="10.2" fill="#000" stroke="#000" stroke-width="0.3">MACD(12,26,9) -0.004002 -0.001441</text>
<text transform="translate(6.3 487) scale(0.905 1)" font-size="10.2" fill="#000" stroke="#000" stroke-width="0.3">RSI(14) 35.3053</text>
</g>
<g id="axis">
<text transform="translate(1170.7 72) scale(0.885 1)" font-size="10.2" fill="#000" stroke="#000" stroke-width="0.3">1.16460</text>
<text transform="translate(1170.7 105) scale(0.885 1)" font-size="10.2" fill="#000" stroke="#000" stroke-width="0.3">1.15890</text>
<text transform="translate(1170.7 171) scale(0.885 1)" font-size="10.2" fill="#000" stroke="#000" stroke-width="0.3">1.14750</text>
<text transform="translate(1170.7 204) scale(0.885 1)" font-size="10.2" fill="#000" stroke="#000" stroke-width="0.3">1.14180</text>
<text transform="translate(1170.7 237) scale(0.885 1)" font-size="10.2" fill="#000" stroke="#000" stroke-width="0.3">1.13610</text>
<text transform="translate(1170.7 270) scale(0.885 1)" font-size="10.2" fill="#000" stroke="#000" stroke-width="0.3">1.13040</text>
<text transform="translate(1170.7 303) scale(0.885 1)" font-size="10.2" fill="#000" stroke="#000" stroke-width="0.3">1.12470</text>
<text transform="translate(1170.7 336) scale(0.885 1)" font-size="10.2" fill="#000" stroke="#000" stroke-width="0.3">1.11915</text>
<text transform="translate(1170.7 402) scale(0.885 1)" font-size="10.2" fill="#000" stroke="#000" stroke-width="0.3">1.10775</text>
<text transform="translate(1168 414) scale(0.885 1)" font-size="10.2" fill="#000" stroke="#000" stroke-width="0.3">0.003331</text>
<text transform="translate(1168 425) scale(0.885 1)" font-size="10.2" fill="#000" stroke="#000" stroke-width="0.3">0.00</text>
<text transform="translate(1168.3 469) scale(0.885 1)" font-size="10.2" fill="#000" stroke="#000" stroke-width="0.3">-0.01043</text>
<text transform="translate(1168.1 485) scale(0.885 1)" font-size="10.2" fill="#000" stroke="#000" stroke-width="0.3">100</text>
<text transform="translate(1167 500) scale(0.885 1)" font-size="10.2" fill="#000" stroke="#000" stroke-width="0.3">70</text>
<text transform="translate(1167 528) scale(0.885 1)" font-size="10.2" fill="#000" stroke="#000" stroke-width="0.3">30</text>
<text transform="translate(1167.8 543) scale(0.885 1)" font-size="10.2" fill="#000" stroke="#000" stroke-width="0.3">0</text>
</g>
<g id="plabels">
<rect x="1166" y="30" width="37" height="11" fill="#ff0000" shape-rendering="crispEdges"/>
<text transform="translate(1170.7 39) scale(0.885 1)" font-size="10.2" fill="#fff" stroke="#fff" stroke-width="0.3">1.17001</text>
<rect x="1166" y="128" width="37" height="11" fill="#ff0000" shape-rendering="crispEdges"/>
<text transform="translate(1170.7 137) scale(0.885 1)" font-size="10.2" fill="#fff" stroke="#fff" stroke-width="0.3">1.15313</text>
<rect x="1166" y="204" width="37" height="11" fill="#ff0000" shape-rendering="crispEdges"/>
<text transform="translate(1170.7 213) scale(0.885 1)" font-size="10.2" fill="#fff" stroke="#fff" stroke-width="0.3">1.14016</text>
<rect x="1166" y="274" width="37" height="11" fill="#00ff00" shape-rendering="crispEdges"/>
<text transform="translate(1170.7 283) scale(0.885 1)" font-size="10.2" fill="#fff" stroke="#fff" stroke-width="0.3">1.12803</text>
<rect x="1166" y="365" width="37" height="11" fill="#000000" shape-rendering="crispEdges"/>
<text transform="translate(1170.7 374) scale(0.885 1)" font-size="10.2" fill="#fff" stroke="#fff" stroke-width="0.3">1.11263</text>
<rect x="1166" y="356" width="37" height="11" fill="#0000ff" shape-rendering="crispEdges"/>
<text transform="translate(1170.7 365) scale(0.885 1)" font-size="10.2" fill="#fff" stroke="#fff" stroke-width="0.3">1.11401</text>
</g>
<g id="time">
<text transform="translate(1.6 559) scale(0.9 1)" font-size="10.2" fill="#000" stroke="#000" stroke-width="0.3">19 Oct 2021</text>
<text transform="translate(65.6 559) scale(0.9 1)" font-size="10.2" fill="#000" stroke="#000" stroke-width="0.3">28 Oct 2021</text>
<text transform="translate(129.6 559) scale(0.9 1)" font-size="10.2" fill="#000" stroke="#000" stroke-width="0.3">7 Nov 2021</text>
<text transform="translate(193.6 559) scale(0.9 1)" font-size="10.2" fill="#000" stroke="#000" stroke-width="0.3">16 Nov 2021</text>
<text transform="translate(257.6 559) scale(0.9 1)" font-size="10.2" fill="#000" stroke="#000" stroke-width="0.3">25 Nov 2021</text>
<text transform="translate(321.6 559) scale(0.9 1)" font-size="10.2" fill="#000" stroke="#000" stroke-width="0.3">5 Dec 2021</text>
<text transform="translate(385.6 559) scale(0.9 1)" font-size="10.2" fill="#000" stroke="#000" stroke-width="0.3">14 Dec 2021</text>
<text transform="translate(449.6 559) scale(0.9 1)" font-size="10.2" fill="#000" stroke="#000" stroke-width="0.3">23 Dec 2021</text>
<text transform="translate(513.6 559) scale(0.9 1)" font-size="10.2" fill="#000" stroke="#000" stroke-width="0.3">2 Jan 2022</text>
<text transform="translate(577.6 559) scale(0.9 1)" font-size="10.2" fill="#000" stroke="#000" stroke-width="0.3">11 Jan 2022</text>
<text transform="translate(641.6 559) scale(0.9 1)" font-size="10.2" fill="#000" stroke="#000" stroke-width="0.3">20 Jan 2022</text>
<text transform="translate(705.6 559) scale(0.9 1)" font-size="10.2" fill="#000" stroke="#000" stroke-width="0.3">30 Jan 2022</text>
<text transform="translate(769.6 559) scale(0.9 1)" font-size="10.2" fill="#000" stroke="#000" stroke-width="0.3">8 Feb 2022</text>
<text transform="translate(833.6 559) scale(0.9 1)" font-size="10.2" fill="#000" stroke="#000" stroke-width="0.3">17 Feb 2022</text>
<text transform="translate(897.6 559) scale(0.9 1)" font-size="10.2" fill="#000" stroke="#000" stroke-width="0.3">27 Feb 2022</text>
</g>
<g id="tabs" shape-rendering="crispEdges">
<rect x="0" y="567" width="1203" height="1" fill="#e3e3e3"/>
<rect x="0" y="568" width="1203" height="25" fill="#f0f0f0"/>
<rect x="0" y="569" width="1203" height="1" fill="#000"/>
<rect x="0" y="588" width="1203" height="2" fill="#fafafa"/>
<rect x="104" y="568" width="106" height="19" fill="#fff"/>
<rect x="103" y="569" width="1" height="19" fill="#000"/>
<rect x="210" y="569" width="1" height="19" fill="#000"/>
<rect x="103" y="587" width="108" height="1" fill="#000"/>
<rect x="211" y="571" width="1" height="18" fill="#a0a0a0"/>
<rect x="105" y="588" width="107" height="1" fill="#a0a0a0"/>
<rect x="319" y="572" width="1" height="14" fill="#505050"/>
<rect x="427" y="572" width="1" height="14" fill="#505050"/>
<rect x="535" y="572" width="1" height="14" fill="#505050"/>
<rect x="647" y="572" width="1" height="14" fill="#505050"/>
<rect x="747" y="572" width="1" height="14" fill="#505050"/>
<rect x="827" y="572" width="1" height="14" fill="#505050"/>
<rect x="915" y="572" width="1" height="14" fill="#505050"/>
<rect x="999" y="572" width="1" height="14" fill="#505050"/>
</g>
<g id="tabtext" font-size="12.4" fill="#6c6c6c">
<text x="14.6" y="583.6" textLength="77.3" lengthAdjust="spacingAndGlyphs">USDX,Weekly</text>
<text x="221.2" y="583.6" textLength="87.3" lengthAdjust="spacingAndGlyphs">AUDUSD-,Daily</text>
<text x="331.4" y="583.6" textLength="83.6" lengthAdjust="spacingAndGlyphs">USDCHF-,Daily</text>
<text x="438.5" y="583.6" textLength="85.6" lengthAdjust="spacingAndGlyphs">USDCAD-,Daily</text>
<text x="547.3" y="583.6" textLength="87.3" lengthAdjust="spacingAndGlyphs">USDCNH-,Daily</text>
<text x="658.3" y="583.6" textLength="76" lengthAdjust="spacingAndGlyphs">XAUUSD-,M5</text>
<text x="758.7" y="583.6" textLength="55.6" lengthAdjust="spacingAndGlyphs">UKOil-,H1</text>
<text x="839.3" y="583.6" textLength="63.3" lengthAdjust="spacingAndGlyphs">DJ30-,Daily</text>
<text x="926.6" y="583.6" textLength="60.8" lengthAdjust="spacingAndGlyphs">UK100-,H1</text>
<text transform="translate(114.4 583.6) scale(0.965 1)" fill="#000" stroke="#000" stroke-width="0.15">EURUSD-,Daily</text>
</g>
<path d="M1183.5 575 L1183.5 581.5 L1179.5 578.2 Z" fill="#a0a0a0"/>
<path d="M1199 575 L1199 581.5 L1203 578.2 Z" fill="#a0a0a0"/>
</svg>
</body></html>
